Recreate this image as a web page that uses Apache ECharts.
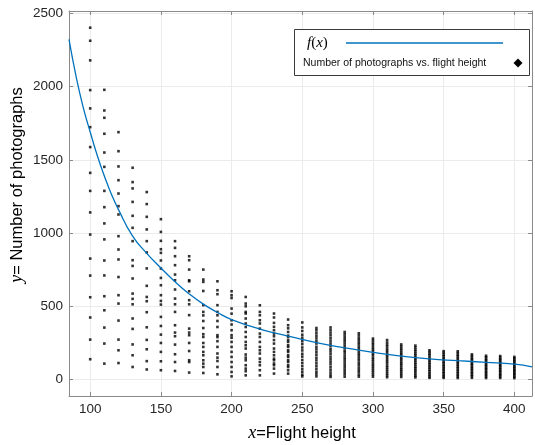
<!DOCTYPE html>
<html>
<head>
<meta charset="utf-8">
<script src="https://cdn.jsdelivr.net/npm/echarts@6/dist/echarts.min.js"></script>
<style>
html,body{margin:0;padding:0;background:#ffffff;}
#chart{width:535px;height:445px;}
</style>
</head>
<body>
<div id="chart"></div>
<script>
// ---- data ----
const flightHeights = [100,110,120,130,140,150,160,170,180,190,200,210,220,230,240,250,260,270,280,290,300,310,320,330,340,350,360,370,380,390,400];

const photoCounts = [
  [2402,2313,2179,1976,1851,1723,1587,1411,1288,1141,990,826,710,562,424,273,139],
  [1978,1837,1787,1678,1550,1452,1288,1177,1066,957,813,711,569,473,355,246,109],
  [1689,1559,1455,1361,1270,1184,1127,979,888,820,700,576,519,403,273,200,113],
  [1446,1348,1305,1213,1118,1036,945,815,776,690,587,551,514,417,346,240,166,86],
  [1280,1198,1111,1025,945,868,759,640,564,535,460,357,271,207,126,69],
  [1095,1008,947,890,865,813,758,694,644,576,537,512,428,366,307,250,189,125,64],
  [945,899,842,781,717,678,615,553,514,462,371,321,296,239,173,120,59],
  [842,815,751,678,671,603,542,514,440,348,321,303,250,195,132,120,48],
  [751,683,667,605,508,462,438,400,352,310,291,250,223,189,166,132,109,86,45],
  [671,610,583,508,462,439,400,359,303,290,262,223,178,150,127,86,36],
  [603,576,557,485,450,405,376,337,303,286,257,223,189,155,120,86,52,22],
  [564,519,500,462,451,417,383,359,325,291,257,234,212,171,150,132,98,75,57,29],
  [507,462,439,405,383,348,314,291,257,223,200,178,143,120,98,64,29],
  [451,424,387,360,337,314,296,270,246,212,189,166,143,132,110,98,75,41],
  [410,371,350,325,300,291,270,257,234,223,200,189,166,154,132,120,98,86,64,41],
  [390,356,332,306,286,262,242,219,199,176,157,134,113,92,71,52,33,22],
  [352,336,317,299,281,262,246,224,206,187,169,149,131,111,92,73,54,38,22],
  [356,339,321,303,284,266,247,231,211,194,177,157,139,122,104,84,66,48,31,18],
  [325,309,293,277,262,246,229,214,197,183,165,149,134,117,101,84,68,52,36,20],
  [316,301,284,270,254,240,224,209,192,177,163,146,131,114,99,82,66,51,34,20],
  [280,266,250,237,221,207,194,178,165,149,136,121,105,92,77,63,49,34,20],
  [270,253,238,225,209,196,183,167,155,140,126,113,97,84,70,56,42,29,16],
  [240,227,213,201,186,174,162,147,136,121,109,97,83,70,58,44,31,18],
  [232,219,205,193,179,167,153,141,129,115,103,89,77,64,52,38,26,15],
  [200,189,176,165,151,140,129,116,105,92,81,68,57,44,33,21,12],
  [194,183,170,159,146,136,123,113,100,90,77,67,54,44,32,21,12],
  [193,182,169,159,146,135,124,112,101,89,78,66,55,43,32,21,11],
  [172,162,150,140,130,118,108,98,86,76,66,54,44,33,23,12],
  [163,153,143,132,123,112,102,92,81,72,62,51,42,31,21,11],
  [161,151,140,131,121,111,100,91,81,70,61,51,40,31,21,11],
  [155,145,136,125,116,106,97,87,77,67,58,48,39,29,19,10]
];

const fitX = [85,90,95,100,105,110,115,120,130,140,150,160,170,180,190,200,220,240,260,280,300,320,340,360,380,400,412.5];
const fitY = [2322,2070,1860,1690,1530,1390,1265,1160,980,862,762,668,585,515,458,410,345,297,252,217,186,160,141,129,118,105,87];

const xTickLabels = [100,150,200,250,300,350,400];
const yTickLabels = [0,500,1000,1500,2000,2500];

const legendLine = 'f(x)';
const legendScatter = 'Number of photographs vs. flight height';

// ---- build series data ----
const scatterData = [];
flightHeights.forEach((h, i) => photoCounts[i].forEach(v => scatterData.push([h, v])));
const fitData = fitX.map((x, i) => [x, fitY[i]]);

const GRID = {left: 69, right: 3, top: 11, bottom: 49};
const AX_COLOR = '#8a8a8a';
const LABEL_FONT = {fontFamily: 'Liberation Sans, Arial, sans-serif', fontSize: 13.5, color: '#262626'};

const chart = echarts.init(document.getElementById('chart'), null, {renderer: 'canvas'});

const baseX = {
  type: 'value', min: 85, max: 412.5, splitNumber: 6,
  axisLine: {show: true, onZero: false, lineStyle: {color: AX_COLOR, width: 1}},
  axisTick: {show: true, inside: true, length: 4, lineStyle: {color: AX_COLOR}},
};
const baseY = {
  type: 'value', min: -112, max: 2516, splitNumber: 5,
  axisLine: {show: true, onZero: false, lineStyle: {color: AX_COLOR, width: 1}},
  axisTick: {show: true, inside: true, length: 4, lineStyle: {color: AX_COLOR}},
};

chart.setOption({
  animation: false,
  backgroundColor: '#ffffff',
  grid: Object.assign({show: false}, GRID),
  xAxis: [
    Object.assign({}, baseX, {
      position: 'bottom',
      axisLabel: Object.assign({show: true, margin: 6, showMinLabel: false, showMaxLabel: false,
        formatter: v => (xTickLabels.indexOf(v) >= 0 ? String(v) : '')}, LABEL_FONT),
      splitLine: {show: true, lineStyle: {color: '#ebebeb', width: 1}}
    }),
    Object.assign({}, baseX, {
      position: 'top',
      axisLabel: {show: false},
      splitLine: {show: false}
    })
  ],
  yAxis: [
    Object.assign({}, baseY, {
      position: 'left',
      axisLabel: Object.assign({show: true, margin: 6, showMinLabel: false, showMaxLabel: false,
        formatter: v => (yTickLabels.indexOf(v) >= 0 ? String(v) : '')}, LABEL_FONT),
      splitLine: {show: true, lineStyle: {color: '#ebebeb', width: 1}}
    }),
    Object.assign({}, baseY, {
      position: 'right',
      axisLabel: {show: false},
      splitLine: {show: false}
    })
  ],
  series: [
    {
      name: legendScatter,
      type: 'scatter',
      xAxisIndex: 0, yAxisIndex: 0,
      data: scatterData,
      symbol: 'rect',
      symbolSize: 2.6,
      itemStyle: {color: '#000000'},
      emphasis: {disabled: true},
      z: 3
    },
    {
      name: legendLine,
      type: 'line',
      xAxisIndex: 0, yAxisIndex: 0,
      data: fitData,
      smooth: true,
      showSymbol: false,
      lineStyle: {color: '#0072BD', width: 1.3},
      emphasis: {disabled: true},
      z: 4
    }
  ],
  graphic: [
    {
      type: 'rect', z: 100,
      shape: {x: 294.5, y: 29.5, width: 235, height: 46},
      style: {fill: '#ffffff', stroke: '#3a3a3a', lineWidth: 1}
    },
    {
      type: 'text', z: 101,
      style: {
        x: 307, y: 43, verticalAlign: 'middle', align: 'left',
        text: '{i|f}{n|(}{i|x}{n|)}',
        rich: {
          i: {fontFamily: 'Liberation Serif, Times New Roman, serif', fontStyle: 'italic', fontSize: 15, fill: '#000'},
          n: {fontFamily: 'Liberation Serif, Times New Roman, serif', fontSize: 15, fill: '#000'}
        }
      }
    },
    {
      type: 'line', z: 101,
      shape: {x1: 346, y1: 43, x2: 503, y2: 43},
      style: {stroke: '#0072BD', lineWidth: 1.5}
    },
    {
      type: 'text', z: 101,
      style: {
        x: 303, y: 63, verticalAlign: 'middle', align: 'left',
        text: legendScatter,
        fontFamily: 'Liberation Sans, Arial, sans-serif', fontSize: 10.5, fill: '#111'
      }
    },
    {
      type: 'polygon', z: 101,
      shape: {points: [[518, 58.5], [522.5, 63], [518, 67.5], [513.5, 63]]},
      style: {fill: '#000'}
    },
    {
      type: 'text', z: 101,
      style: {
        x: 302, y: 433, align: 'center', verticalAlign: 'middle',
        text: '{i|x}{n|=Flight height}',
        rich: {
          i: {fontFamily: 'Liberation Serif, Times New Roman, serif', fontStyle: 'italic', fontSize: 18, fill: '#000'},
          n: {fontFamily: 'Liberation Sans, Arial, sans-serif', fontSize: 16.5, fill: '#000'}
        }
      }
    },
    {
      type: 'text', z: 101,
      x: 17, y: 185, rotation: Math.PI / 2,
      style: {
        x: 0, y: 0, align: 'center', verticalAlign: 'middle',
        text: '{i|y}{n|= Number of photographs}',
        rich: {
          i: {fontFamily: 'Liberation Serif, Times New Roman, serif', fontStyle: 'italic', fontSize: 18, fill: '#000'},
          n: {fontFamily: 'Liberation Sans, Arial, sans-serif', fontSize: 16.5, fill: '#000'}
        }
      }
    }
  ]
});
</script>
</body>
</html>
